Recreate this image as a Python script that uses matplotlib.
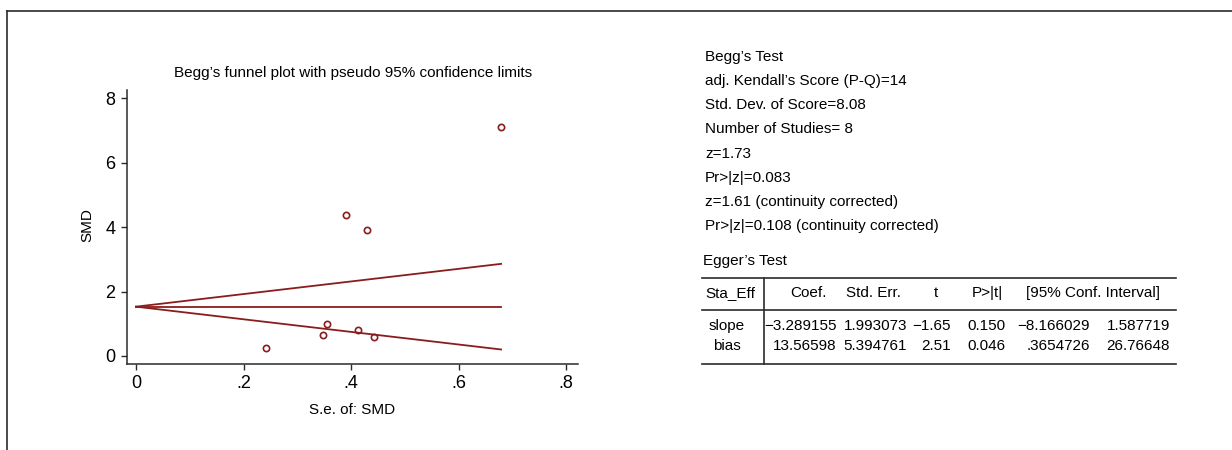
import matplotlib
matplotlib.use("Agg")
import matplotlib.pyplot as plt
from matplotlib.lines import Line2D

plt.rcParams['font.family'] = ['Liberation Sans Narrow', 'Liberation Sans', 'DejaVu Sans']

# study estimates
se = [0.241, 0.347, 0.356, 0.390, 0.412, 0.429, 0.443, 0.679]
smd = [0.24, 0.65, 0.98, 4.38, 0.80, 3.91, 0.58, 7.12]

# pseudo 95% limits and pooled estimate (end points of the lines)
funnel_se = [0.0, 0.679]
upper_lim = [1.53, 2.86]
lower_lim = [1.53, 0.20]
pooled = [1.53, 1.53]

xticks = [0, 0.2, 0.4, 0.6, 0.8]
xticklabels = ['0', '.2', '.4', '.6', '.8']
yticks = [0, 2, 4, 6, 8]

begg_lines = [
    "Begg\u2019s Test",
    "adj. Kendall\u2019s Score (P-Q)=14",
    "Std. Dev. of Score=8.08",
    "Number of Studies= 8",
    "z=1.73",
    "Pr>|z|=0.083",
    "z=1.61 (continuity corrected)",
    "Pr>|z|=0.108 (continuity corrected)",
]

egger_header = ["Coef.", "Std. Err.", "t", "P>|t|", "[95% Conf. Interval]"]
egger_rows = ["slope", "bias"]
egger_vals = [
    ["\u22123.289155", "1.993073", "\u22121.65", "0.150", "\u22128.166029", "1.587719"],
    ["13.56598", "5.394761", "2.51", "0.046", ".3654726", "26.76648"],
]

W, H = 1232, 450
RED = '#8b1c1c'
DARK = '#2b2b2b'
FS = 11

fig = plt.figure(figsize=(W / 100, H / 100), dpi=100)


def fx(px):
    return px / W


def fy(py):
    return 1 - py / H


# outer frame (left and top only)
fig.add_artist(Line2D([fx(6.5), fx(6.5)], [fy(10.5), fy(450)], color=DARK, lw=1.2))
fig.add_artist(Line2D([fx(6.5), fx(1232)], [fy(10.5), fy(10.5)], color=DARK, lw=1.2))

# funnel plot
ax = fig.add_axes([fx(126.7), fy(364.3), fx(578 - 126.7), (364.3 - 90) / H])
ax.plot(funnel_se, upper_lim, color=RED, lw=1.3)
ax.plot(funnel_se, lower_lim, color=RED, lw=1.3)
ax.plot(funnel_se, pooled, color=RED, lw=1.3)
ax.plot(se, smd, 'o', mfc='none', mec=RED, ms=4.5, mew=1.2)

ax.set_xlim(-0.0173, 0.822)
ax.set_ylim(-0.26, 8.26)
ax.set_xticks(xticks)
ax.set_xticklabels(xticklabels)
ax.set_yticks(yticks)
for s in ['top', 'right']:
    ax.spines[s].set_visible(False)
for s in ['left', 'bottom']:
    ax.spines[s].set_color(DARK)
    ax.spines[s].set_linewidth(1.1)
ax.tick_params(direction='out', length=4, width=1.0, color=DARK, labelsize=FS + 2, pad=4)

ax.set_xlabel("S.e. of: SMD", fontsize=FS, va='center')
ax.xaxis.set_label_coords((352 - 126.7) / 451.3, (364.3 - 410) / 274.3)
ax.set_ylabel("SMD", fontsize=FS, va='center')
ax.yaxis.set_label_coords((87 - 126.7) / 451.3, (364.3 - 225) / 274.3)
ax.set_title("Begg\u2019s funnel plot with pseudo 95% confidence limits", fontsize=FS,
             x=(353 - 126.7) / 451.3, y=(364.3 - 73) / 274.3, va='center', pad=0)

# Begg's test text
for i, line in enumerate(begg_lines):
    fig.text(fx(705), fy(56.7 + i * 24.2), line, fontsize=FS, va='center', ha='left')

# Egger's test table
fig.text(fx(703), fy(260.7), "Egger\u2019s Test", fontsize=FS, va='center', ha='left')
for yy in [278.3, 310, 364]:
    fig.add_artist(Line2D([fx(702), fx(1176)], [fy(yy), fy(yy)], color=DARK, lw=1.2))
fig.add_artist(Line2D([fx(764), fx(764)], [fy(278.3), fy(364)], color=DARK, lw=1.2))

fig.text(fx(705), fy(293), "Sta_Eff", fontsize=FS, va='center', ha='left')
header_x = [808, 873, 936, 987, 1093]
for hx, h in zip(header_x, egger_header):
    fig.text(fx(hx), fy(293), h, fontsize=FS, va='center', ha='center')

col_right = [837, 907, 951, 1006, 1090, 1170]
row_y = [326, 346]
for ry, name, vals in zip(row_y, egger_rows, egger_vals):
    fig.text(fx(727), fy(ry), name, fontsize=FS, va='center', ha='center')
    for cx, v in zip(col_right, vals):
        fig.text(fx(cx), fy(ry), v, fontsize=FS, va='center', ha='right')

fig.savefig("out.png", dpi=100)
